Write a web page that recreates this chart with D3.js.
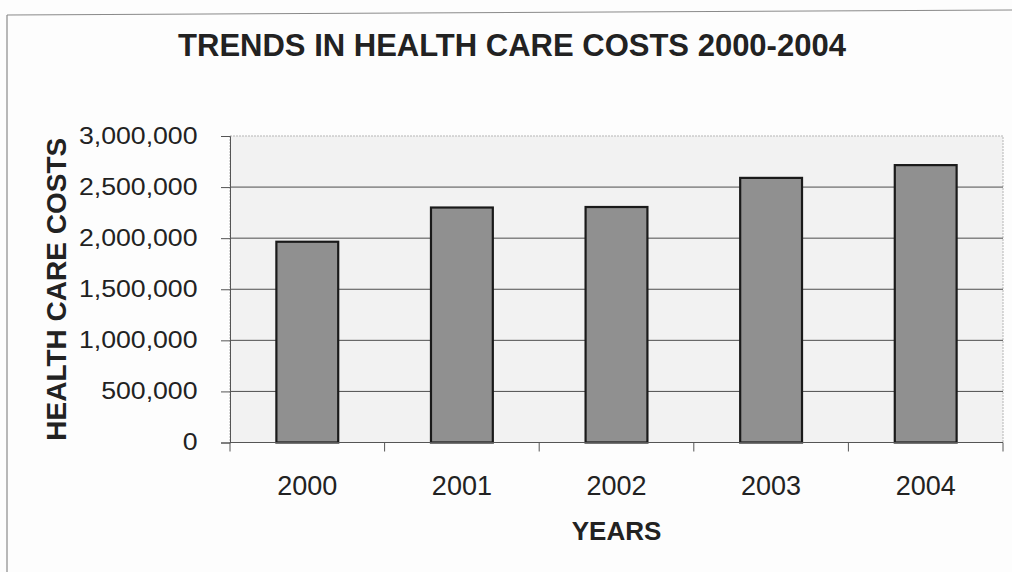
<!DOCTYPE html>
<html>
<head>
<meta charset="utf-8">
<script src="https://d3js.org/d3.v7.min.js"></script>
<style>
  body { margin: 0; background: #fdfdfd; }
  svg text { font-family: "Liberation Sans", Arial, sans-serif; fill: #222; }
</style>
</head>
<body>
<svg id="chart" width="1012" height="572"></svg>
<script>
    // values
    var years = ['2000', '2001', '2002', '2003', '2004'];
    var costs = [1965000, 2300000, 2305000, 2590000, 2715000];
    var yTicks = [0, 500000, 1000000, 1500000, 2000000, 2500000, 3000000];

    var width = 1012;
    var height = 572;
    var margin = { top: 136, right: 9, bottom: 129.5, left: 230 };
    var innerW = width - margin.left - margin.right;
    var innerH = height - margin.top - margin.bottom;

    var svg = d3.select('#chart');

    // frame of the chart object
    svg.append('line')
        .attr('x1', 7).attr('y1', 15).attr('x2', 1012).attr('y2', 10)
        .attr('stroke', '#8a8a8a').attr('stroke-width', 1.2);
    svg.append('line')
        .attr('x1', 7).attr('y1', 15).attr('x2', 7).attr('y2', 572)
        .attr('stroke', '#8a8a8a').attr('stroke-width', 1.2);

    svg.append('text')
        .attr('x', 512)
        .attr('y', 56)
        .attr('text-anchor', 'middle')
        .style('font-size', '31px')
        .style('font-weight', 'bold')
        .text('TRENDS IN HEALTH CARE COSTS 2000-2004');

    var g = svg.append('g')
        .attr('transform', 'translate(' + margin.left + ',' + margin.top + ')');

    var x = d3.scaleBand()
        .domain(years)
        .range([0, innerW])
        .paddingInner(0.6)
        .paddingOuter(0.3);

    var y = d3.scaleLinear()
        .domain([0, 3000000])
        .range([innerH, 0]);

    // plot area
    g.append('rect')
        .attr('width', innerW)
        .attr('height', innerH)
        .attr('fill', '#f2f2f2')
        .attr('stroke', '#b5b5b5')
        .attr('stroke-dasharray', '2,1');

    // gridlines
    g.selectAll('.grid')
        .data(yTicks.slice(1, -1))
        .enter()
        .append('line')
        .attr('x1', 0).attr('x2', innerW)
        .attr('y1', function(d) { return y(d); })
        .attr('y2', function(d) { return y(d); })
        .attr('stroke', '#4d4d4d')
        .attr('stroke-width', 1);

    g.selectAll('.bar')
        .data(costs)
        .enter()
        .append('rect')
        .attr('x', function(d, i) { return x(years[i]); })
        .attr('y', function(d) { return y(d); })
        .attr('width', x.bandwidth())
        .attr('height', function(d) { return innerH - y(d); })
        .attr('fill', '#909090')
        .attr('stroke', '#1a1a1a')
        .attr('stroke-width', 2.2);

    var yAxis = g.append('g')
        .call(d3.axisLeft(y).tickValues(yTicks).tickSize(9).tickPadding(19)
            .tickFormat(d3.format(',')));
    yAxis.select('.domain').attr('stroke', '#555');
    yAxis.selectAll('.tick line').attr('stroke', '#555');
    yAxis.selectAll('text')
        .style('font-size', '23px')
        .attr('transform', 'scale(1.16,1)');

    // ticks sit on band boundaries
    var edges = years.map(function(d) { return x(d) - x.step() * x.paddingInner() / 2; })
        .concat([innerW]);
    edges[0] = 0;
    var xAxis = g.append('g')
        .attr('transform', 'translate(0,' + innerH + ')');
    xAxis.append('line')
        .attr('x1', 0).attr('x2', innerW)
        .attr('stroke', '#555');
    xAxis.selectAll('.edge')
        .data(edges)
        .enter()
        .append('line')
        .attr('x1', function(d) { return d; })
        .attr('x2', function(d) { return d; })
        .attr('y2', 9)
        .attr('stroke', '#555');
    xAxis.selectAll('.lbl')
        .data(years)
        .enter()
        .append('text')
        .attr('x', function(d) { return x(d) + x.bandwidth() / 2; })
        .attr('y', 52)
        .attr('text-anchor', 'middle')
        .style('font-size', '27px')
        .text(function(d) { return d; });

    svg.append('text')
        .attr('x', margin.left + innerW / 2)
        .attr('y', 540)
        .attr('text-anchor', 'middle')
        .style('font-size', '26px')
        .style('font-weight', 'bold')
        .text('YEARS');

    svg.append('text')
        .attr('transform', 'translate(66,' + (margin.top + innerH / 2) + ') rotate(-90)')
        .attr('text-anchor', 'middle')
        .style('font-size', '28px')
        .style('font-weight', 'bold')
        .text('HEALTH CARE COSTS');
</script>
</body>
</html>
